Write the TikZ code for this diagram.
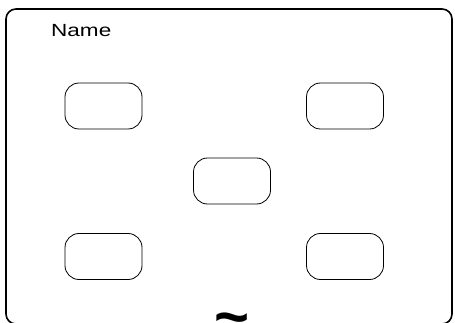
\documentclass[tikz,border=0pt]{standalone}
\usepackage{fontspec}
\setmainfont{Liberation Sans}
\newfontfamily\widesans[FakeStretch=1.28]{Liberation Sans}

\begin{document}
\begin{tikzpicture}[x=1pt,y=-1pt,
    frame/.style={draw,line width=1.6pt,rounded corners=10pt,
        minimum width=446pt,minimum height=315pt,inner sep=0pt},
    slot/.style={draw,line width=0.8pt,rounded corners=14pt,
        minimum width=77pt,minimum height=46pt,inner sep=0pt},
    caption/.style={font=\widesans\fontsize{17.6}{20}\selectfont,
        inner sep=0pt,anchor=base west},
    marker/.style={font=\bfseries\fontsize{60}{60}\selectfont,
        inner sep=0pt,anchor=base}
]
    \useasboundingbox (0,0) rectangle (455,323);
    \node[frame] (border) at (229,166.5) {};
    \node[caption] (name) at (51,37) {Name};
    \node[slot] (nw) at (103.5,106) {};
    \node[slot] (ne) at (345,106) {};
    \node[slot] (mid) at (232,181) {};
    \node[slot] (sw) at (103.5,256.5) {};
    \node[slot] (se) at (345,256.5) {};
    \node[marker] (tilde) at (232,337) {\textasciitilde};
\end{tikzpicture}
\end{document}
